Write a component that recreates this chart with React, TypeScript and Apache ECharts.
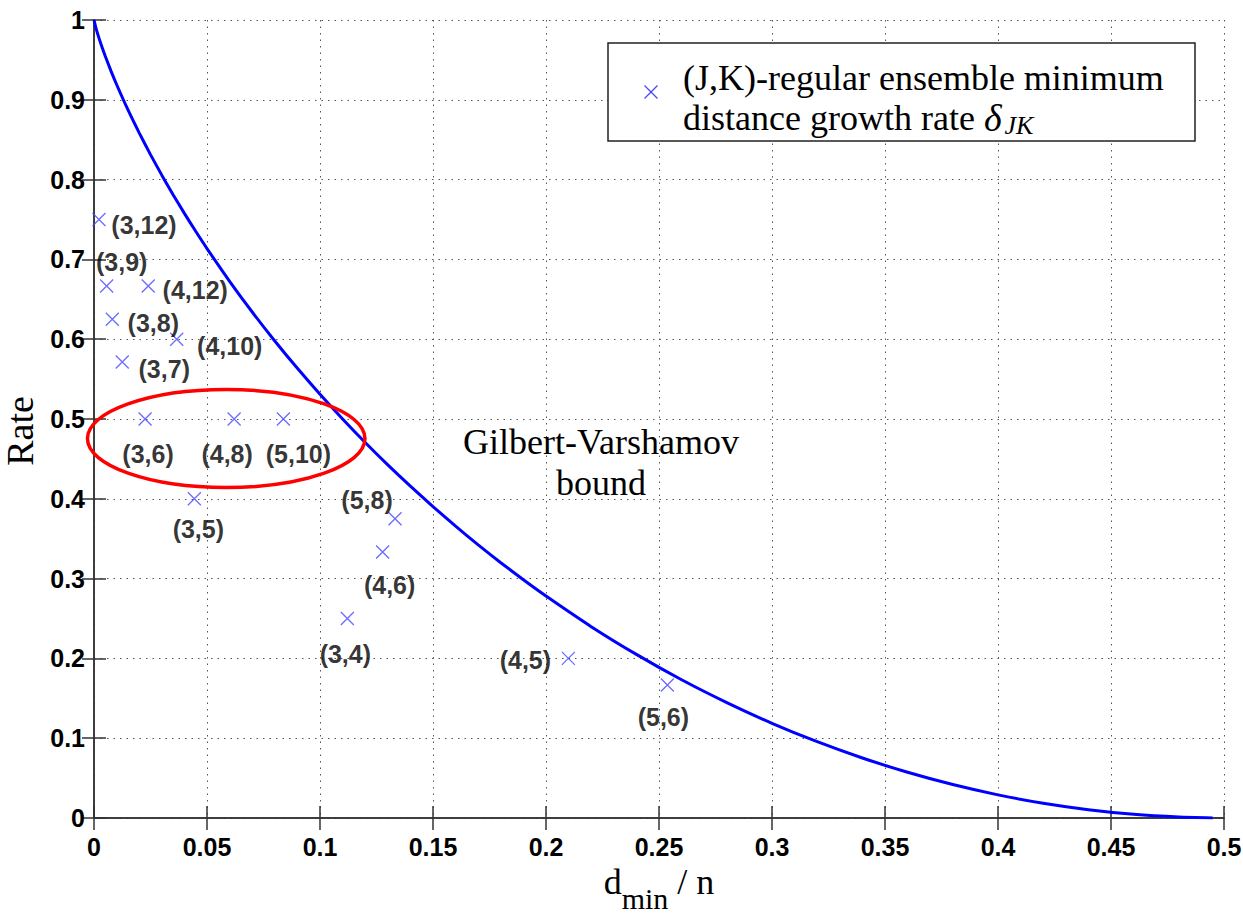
import React, { useEffect, useRef } from 'react';
import * as echarts from 'echarts';

// Gilbert-Varshamov bound
const GV_DELTA = [0, 0.001, 0.002, 0.003, 0.005, 0.0075, 0.01, 0.015, 0.02, 0.025, 0.03, 0.035, 0.04, 0.045, 0.05, 0.06, 0.07, 0.08, 0.09, 0.1, 0.11, 0.12, 0.13, 0.14, 0.15, 0.16, 0.17, 0.18, 0.19, 0.2, 0.22, 0.24, 0.26, 0.28, 0.3, 0.32, 0.34, 0.36, 0.38, 0.4, 0.42, 0.44, 0.46, 0.48, 0.495];
const GV_RATE = [1, 0.9886, 0.9792, 0.9705, 0.9546, 0.9363, 0.9192, 0.8876, 0.8586, 0.8313, 0.8056, 0.7811, 0.7577, 0.7352, 0.7136, 0.6726, 0.6341, 0.5978, 0.5635, 0.531, 0.5001, 0.4706, 0.4425, 0.4158, 0.3902, 0.3657, 0.3423, 0.3199, 0.2985, 0.2781, 0.2398, 0.205, 0.1732, 0.1446, 0.1187, 0.0956, 0.0752, 0.0573, 0.0419, 0.029, 0.0185, 0.0104, 0.0046, 0.0012, 0.0001];

// (J,K)-regular ensembles
const ENSEMBLE_LABELS = ['(3,12)', '(3,9)', '(4,12)', '(3,8)', '(4,10)', '(3,7)', '(3,6)', '(4,8)', '(5,10)', '(3,5)', '(5,8)', '(4,6)', '(3,4)', '(4,5)', '(5,6)'];
const ENSEMBLE_DELTA = [0.0022, 0.0056, 0.024, 0.0081, 0.0366, 0.0125, 0.0226, 0.062, 0.0838, 0.0444, 0.1332, 0.1277, 0.1121, 0.2099, 0.2537];
const ENSEMBLE_RATE = [0.75, 0.6667, 0.6667, 0.625, 0.6, 0.5714, 0.5, 0.5, 0.5, 0.4, 0.375, 0.3333, 0.25, 0.2, 0.1667];
// label offsets (px) from the marker to the label centre
const LABEL_OFFSETS = [[45, 5], [15, -24], [47, 4], [41, 4], [53, 7], [42, 7], [3, 35], [-7, 35], [15, 35], [4, 30], [-28, -19], [7, 33], [-2, 35], [-43, 2], [-4, 32]];

// highlighted group (data units)
const ELLIPSE = { cx: 0.0585, cy: 0.4755, rx: 0.0614, ry: 0.0614 };

const LEGEND_LINE1 = '(J,K)-regular ensemble minimum';
const LEGEND_LINE2 = 'distance growth rate ';
const GV_LABEL = 'Gilbert-Varshamov\nbound';

const SANS = 'Liberation Sans, Arial, sans-serif';
const SERIF = 'Liberation Serif, Times New Roman, serif';

export default function App() {
  const ref = useRef<HTMLDivElement>(null);

  useEffect(() => {
    document.body.style.margin = '0';
    if (!ref.current) return;
    const chart = echarts.init(ref.current, undefined, { renderer: 'svg' });

    const gridLine = { show: true, lineStyle: { color: '#555', type: [1.5, 5] as any, width: 1 } };
    const axisLine = { show: true, lineStyle: { color: '#333', width: 1.5 } };
    const axisTick = { show: true, inside: true, length: 12, lineStyle: { color: '#333', width: 1.5 } };

    chart.setOption({
      animation: false,
      backgroundColor: '#fff',
      grid: { left: 94, right: 19, top: 20, bottom: 98, containLabel: false, outerBoundsMode: 'none' },
      xAxis: [
        {
          type: 'value', min: 0, max: 0.5, interval: 0.05,
          axisLine, axisTick, splitLine: gridLine,
          axisLabel: { fontFamily: SANS, fontSize: 25, fontWeight: 'bold', color: '#000', margin: 16 },
          name: '{d|d}{m|min}{n| / n}',
          nameLocation: 'middle', nameGap: 31,
          nameTextStyle: {
            rich: {
              d: { fontFamily: SERIF, fontSize: 36, color: '#000', lineHeight: 40, verticalAlign: 'top' },
              m: { fontFamily: SERIF, fontSize: 30, color: '#000', lineHeight: 50, verticalAlign: 'bottom' },
              n: { fontFamily: SERIF, fontSize: 36, color: '#000', lineHeight: 40, verticalAlign: 'top' },
            },
          },
        },
        {
          type: 'value', position: 'top', min: 0, max: 0.5, interval: 0.05,
          axisLine, axisTick, splitLine: { show: false }, axisLabel: { show: false },
        },
      ],
      yAxis: [
        {
          type: 'value', min: 0, max: 1, interval: 0.1,
          axisLine, axisTick, splitLine: gridLine,
          axisLabel: { fontFamily: SANS, fontSize: 25, fontWeight: 'bold', color: '#000', margin: 9 },
          name: 'Rate', nameLocation: 'middle', nameGap: 46,
          nameTextStyle: { fontFamily: SERIF, fontSize: 38, color: '#000', padding: [0, 24, 0, 0] },
        },
        {
          type: 'value', position: 'right', min: 0, max: 1, interval: 0.1,
          axisLine, axisTick, splitLine: { show: false }, axisLabel: { show: false },
        },
      ],
      series: [
        {
          name: 'Gilbert-Varshamov bound',
          type: 'line',
          data: GV_DELTA.map((d, i) => [d, GV_RATE[i]]),
          showSymbol: false, symbol: 'none',
          lineStyle: { color: '#0000ff', width: 3 },
          smooth: 0.2,
          z: 2,
        },
        {
          name: '(J,K)-regular ensemble',
          type: 'scatter',
          symbol: 'path://M0,0L10,10M10,0L0,10',
          symbolSize: 13,
          itemStyle: { color: 'none', borderColor: '#4646ff', borderWidth: 1.3 },
          data: ENSEMBLE_DELTA.map((d, i) => ({
            value: [d, ENSEMBLE_RATE[i]],
            label: {
              show: true,
              formatter: ENSEMBLE_LABELS[i],
              position: 'inside',
              offset: LABEL_OFFSETS[i],
              fontFamily: SANS, fontSize: 25, fontWeight: 'bold', color: '#000',
            },
          })),
          z: 3,
        },
      ],
    });

    const [ex, ey] = chart.convertToPixel({ gridIndex: 0 }, [ELLIPSE.cx, ELLIPSE.cy]) as number[];
    const [ex2, ey2] = chart.convertToPixel({ gridIndex: 0 }, [ELLIPSE.cx + ELLIPSE.rx, ELLIPSE.cy + ELLIPSE.ry]) as number[];

    chart.setOption({
      graphic: [
        {
          type: 'ellipse',
          shape: { cx: ex, cy: ey, rx: Math.abs(ex2 - ex), ry: Math.abs(ey - ey2) },
          style: { fill: 'none', stroke: '#ff0000', lineWidth: 3.5 },
          z: 10,
        },
        {
          type: 'text',
          x: 601, y: 462,
          style: {
            text: GV_LABEL, fontFamily: SERIF, fontSize: 36, lineHeight: 41,
            fill: '#000', align: 'center', verticalAlign: 'middle',
          },
          z: 10,
        },
        {
          type: 'rect',
          shape: { x: 608, y: 43, width: 587, height: 98 },
          style: { fill: '#fff', stroke: '#222', lineWidth: 1.5 },
          z: 20,
        },
        {
          type: 'line',
          shape: { x1: 644.5, y1: 85.5, x2: 657.5, y2: 98.5 },
          style: { stroke: '#4646ff', lineWidth: 1.3 },
          z: 21,
        },
        {
          type: 'line',
          shape: { x1: 657.5, y1: 85.5, x2: 644.5, y2: 98.5 },
          style: { stroke: '#4646ff', lineWidth: 1.3 },
          z: 21,
        },
        {
          type: 'text',
          x: 683, y: 98,
          style: {
            text: LEGEND_LINE1 + '\n' + LEGEND_LINE2 + '{g|δ}{s|JK}',
            fontFamily: SERIF, fontSize: 36, lineHeight: 40, fill: '#000',
            align: 'left', verticalAlign: 'middle',
            rich: {
              g: { fontFamily: SERIF, fontSize: 38, fontStyle: 'italic', fill: '#000', lineHeight: 40 },
              s: { fontFamily: SERIF, fontSize: 26, fontStyle: 'italic', fill: '#000', lineHeight: 22, verticalAlign: 'bottom', padding: [0, 0, 0, 3] },
            },
          },
          z: 21,
        },
      ],
    });

    return () => chart.dispose();
  }, []);

  return <div ref={ref} style={{ width: 1243, height: 916 }} />;
}
